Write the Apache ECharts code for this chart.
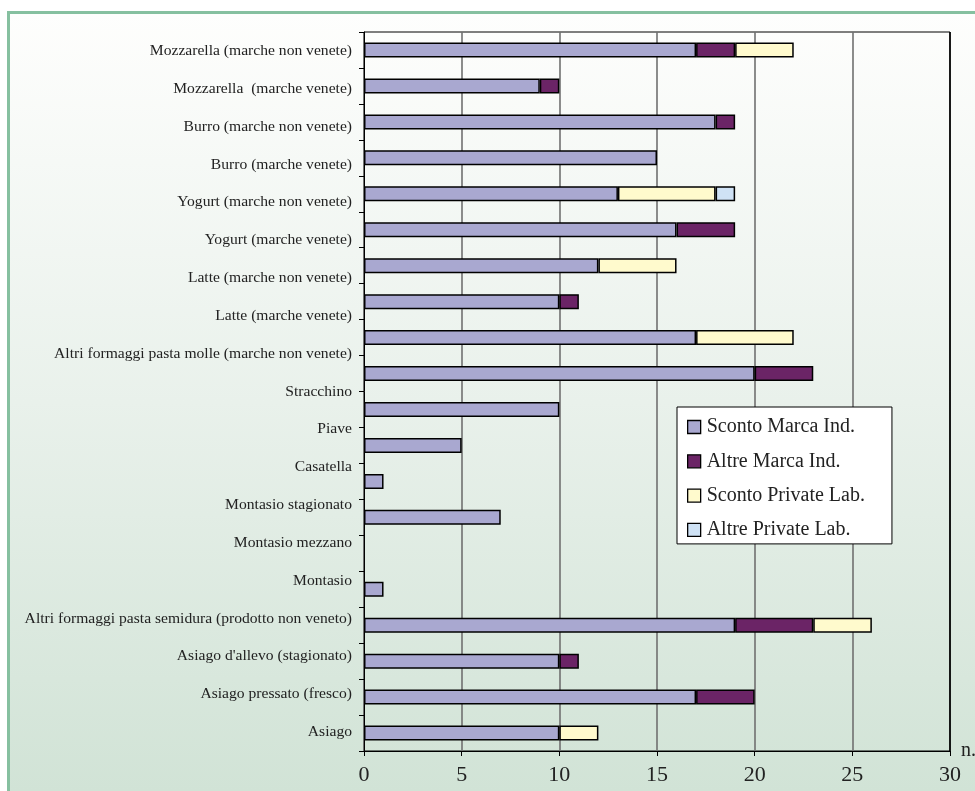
<!DOCTYPE html>
<html>
<head>
<meta charset="utf-8">
<script src="https://cdn.jsdelivr.net/npm/echarts@6/dist/echarts.min.js"></script>
<style>
  html, body { margin: 0; padding: 0; background: #ffffff; }
  #chart { width: 975px; height: 791px; }
</style>
</head>
<body>
<div id="chart"></div>
<script>
// Product names shown along the vertical axis (top to bottom)
const labelNames = [
  'Mozzarella (marche non venete)',
  'Mozzarella  (marche venete)',
  'Burro (marche non venete)',
  'Burro (marche venete)',
  'Yogurt (marche non venete)',
  'Yogurt (marche venete)',
  'Latte (marche non venete)',
  'Latte (marche venete)',
  'Altri formaggi pasta molle (marche non venete)',
  'Stracchino',
  'Piave',
  'Casatella',
  'Montasio stagionato',
  'Montasio mezzano',
  'Montasio',
  'Altri formaggi pasta semidura (prodotto non veneto)',
  "Asiago d'allevo (stagionato)",
  'Asiago pressato (fresco)',
  'Asiago'
];

// Bar rows (top to bottom); the sheet carries one blank row
const barRows = [
  'Mozzarella (marche non venete)',
  'Mozzarella  (marche venete)',
  'Burro (marche non venete)',
  'Burro (marche venete)',
  'Yogurt (marche non venete)',
  'Yogurt (marche venete)',
  'Latte (marche non venete)',
  'Latte (marche venete)',
  'Altri formaggi pasta molle (marche non venete)',
  'Stracchino',
  'Piave',
  'Casatella',
  'Montasio stagionato',
  'Montasio mezzano',
  '',
  'Montasio',
  'Altri formaggi pasta semidura (prodotto non veneto)',
  "Asiago d'allevo (stagionato)",
  'Asiago pressato (fresco)',
  'Asiago'
];

// Counts per row, one array per series
const scontoMarcaInd  = [17, 9, 18, 15, 13, 16, 12, 10, 17, 20, 10, 5, 1, 7, 0, 1, 19, 10, 17, 10];
const altreMarcaInd   = [ 2, 1,  1,  0,  0,  3,  0,  1,  0,  3,  0, 0, 0, 0, 0, 0,  4,  1,  3,  0];
const scontoPrivLab   = [ 3, 0,  0,  0,  5,  0,  4,  0,  5,  0,  0, 0, 0, 0, 0, 0,  3,  0,  0,  2];
const altrePrivLab    = [ 0, 0,  0,  0,  1,  0,  0,  0,  0,  0,  0, 0, 0, 0, 0, 0,  0,  0,  0,  0];

const xTicks = [0, 5, 10, 15, 20, 25, 30];

const seriesNames  = ['Sconto Marca Ind.', 'Altre Marca Ind.', 'Sconto Private Lab.', 'Altre Private Lab.'];
const seriesColors = ['#a9a8d0', '#6b2466', '#fffacd', '#cfe2f5'];
const seriesData   = [scontoMarcaInd, altreMarcaInd, scontoPrivLab, altrePrivLab];

const FONT = '"Liberation Serif", "DejaVu Serif", serif';
const TEXT = '#222222';

const chart = echarts.init(document.getElementById('chart'), null, { renderer: 'canvas' });

chart.setOption({
  animation: false,
  backgroundColor: '#ffffff',
  graphic: [
    {
      type: 'rect',
      z: -10,
      shape: { x: 8, y: 12, width: 967, height: 779 },
      style: {
        fill: new echarts.graphic.LinearGradient(0, 0, 0, 1, [
          { offset: 0, color: '#fefefd' },
          { offset: 0.5, color: '#e9f1eb' },
          { offset: 1, color: '#d1e3d6' }
        ])
      }
    },
    {
      type: 'polyline',
      z: -5,
      shape: { points: [[8.5, 791], [8.5, 12.5], [975, 12.5]] },
      style: { stroke: '#86c0a0', lineWidth: 3, fill: null }
    }
  ],
  grid: {
    left: 364, right: 25, top: 32, bottom: 40,
    containLabel: false,
    outerBoundsMode: 'none',
    show: true, borderColor: '#000', borderWidth: 1, backgroundColor: 'transparent'
  },
  legend: {
    orient: 'vertical',
    left: 677, top: 407,
    backgroundColor: '#ffffff',
    borderColor: '#000', borderWidth: 1,
    padding: [10, 27, 4, 10],
    itemGap: 14.3,
    icon: 'rect',
    itemWidth: 13, itemHeight: 13,
    itemStyle: { borderColor: '#000', borderWidth: 1.3 },
    textStyle: { fontFamily: FONT, fontSize: 20, color: TEXT, padding: [0, 0, 0, 1] },
    data: seriesNames
  },
  xAxis: {
    type: 'value',
    min: 0, max: 30, interval: 5,
    name: 'n.',
    nameLocation: 'end',
    nameGap: 11,
    nameTextStyle: { fontFamily: FONT, fontSize: 20, color: TEXT, verticalAlign: 'middle', padding: [4, 0, 0, 0] },
    axisLine: { show: true, lineStyle: { color: '#000', width: 1 } },
    axisTick: { show: true, length: 5, lineStyle: { color: '#000' } },
    axisLabel: {
      fontFamily: FONT, fontSize: 22, color: TEXT, margin: 13,
      formatter: v => (xTicks.includes(v) ? String(v) : '')
    },
    splitLine: { show: true, lineStyle: { color: ['#707070', '#707070', '#707070', '#707070', '#707070', '#707070', '#000'], width: 1.6 } }
  },
  yAxis: [
    {
      type: 'category',
      data: barRows,
      inverse: true,
      position: 'left',
      axisLine: { show: true, lineStyle: { color: '#000', width: 1 } },
      axisTick: { show: true, length: 5, lineStyle: { color: '#000' } },
      axisLabel: { show: false },
      splitLine: { show: false }
    },
    {
      type: 'category',
      data: labelNames,
      inverse: true,
      position: 'left',
      offset: 0,
      axisLine: { show: false },
      axisTick: { show: false },
      axisLabel: { fontFamily: FONT, fontSize: 15.6, color: TEXT, margin: 12 },
      splitLine: { show: false }
    }
  ],
  series: seriesNames.map((name, i) => ({
    name,
    type: 'bar',
    stack: 'tot',
    yAxisIndex: 0,
    barWidth: 15,
    itemStyle: { color: seriesColors[i], borderColor: '#000', borderWidth: 1.5 },
    data: seriesData[i].map(v => (v > 0 ? v : null))
  }))
});
</script>
</body>
</html>
